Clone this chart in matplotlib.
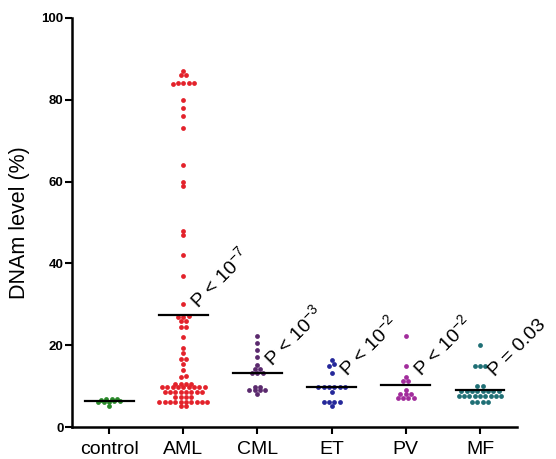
import numpy as np
import matplotlib
matplotlib.use("Agg")
import matplotlib.pyplot as plt

plt.rcParams["font.family"] = ["Liberation Sans", "DejaVu Sans"]
plt.rcParams["mathtext.fontset"] = "custom"
plt.rcParams["mathtext.rm"] = "Liberation Sans"
plt.rcParams["mathtext.it"] = "Liberation Sans:italic"
plt.rcParams["mathtext.bf"] = "Liberation Sans:bold"

# groups and DNAm values (%)
groups = ["control", "AML", "CML", "ET", "PV", "MF"]

control = [6.8, 6.8, 6.8, 6.6, 6.4, 6.4, 6.2, 6.2, 6.0, 5.2]
aml = [86.9, 86.1, 86.1, 84.2, 84.0, 83.8, 84.0, 84.2,
       80, 78, 76, 73, 64, 60, 59, 48, 47, 42, 37, 30,
       27.2, 27.0, 27.0, 26.0, 26.0, 24.4, 24.4,
       22, 19.2, 18.2, 16.6, 16.6, 15.4, 14, 12.4, 12.2,
       10.5, 10.5, 10.5, 10.5,
       9.8, 9.8, 9.8, 9.8, 9.8, 9.8, 9.8, 9.8, 9.8,
       8.5, 8.5, 8.5, 8.5, 8.5, 8.5, 8.5, 8.5,
       7.3, 7.3, 7.3, 7.3,
       6.1, 6.1, 6.1, 6.1, 6.1, 6.1, 6.1, 6.1, 6.1, 6.1,
       5.2, 5.2]
cml = [22.3, 20.6, 18.9, 17.0, 15.1, 14.1, 14.1, 13.2, 13.2, 13.2,
       9.9, 9.9, 9.1, 9.1, 9.1, 9.1, 8.0]
et = [16.3, 15.5, 15.0, 13.2, 9.8, 9.8, 9.8, 9.8, 9.8, 9.8, 8.5,
      6.2, 6.2, 6.2, 6.2, 5.2]
pv = [22.2, 14.8, 12.2, 11.2, 11.2, 9.0, 8.0, 8.0, 8.0, 7.0, 7.0, 7.0, 7.0]
mf = [20.0, 15.0, 15.0, 15.0, 10.0, 10.0,
      8.7, 8.7, 8.7, 8.7, 8.7, 8.7, 8.7, 8.7,
      7.5, 7.5, 7.5, 7.5, 7.5, 7.5, 7.5, 7.5, 7.5,
      6.0, 6.0, 6.0, 6.0]
series = [control, aml, cml, et, pv, mf]

p_labels = ["", r"P < 10$^{-7}$", r"P < 10$^{-3}$", r"P < 10$^{-2}$",
            r"P < 10$^{-2}$", "P = 0.03"]

colors = ["#2a8a2a", "#e3222b", "#5b2a6e", "#25289a", "#a22c9c", "#1f6f75"]
label_y = [0, 28.8, 14.6, 12.2, 12.2, 12.2]  # anchor heights of the rotated P labels


def swarm(vals, bin_w=0.5, dx=0.072):
    v = np.sort(np.asarray(vals, dtype=float))
    offs = np.zeros(len(v))
    start = 0
    for i in range(1, len(v) + 1):
        if i == len(v) or v[i] - v[start] > bin_w:
            n = i - start
            offs[start:i] = (np.arange(n) - (n - 1) / 2) * dx
            start = i
    return v, offs


fig = plt.figure(figsize=(5.56, 4.59), dpi=100)
ax = fig.add_axes([0.1295, 0.0697, 0.8005, 0.8913])

for i, (vals, col) in enumerate(zip(series, colors)):
    v, offs = swarm(vals)
    ax.scatter(i + offs, v, s=12, color=col, linewidths=0, zorder=3)
    m = np.mean(vals)
    ax.plot([i - 0.33, i + 0.33], [m, m], color="black", lw=1.6, zorder=4)
    if p_labels[i]:
        ax.text(i + 0.2, label_y[i], p_labels[i], rotation=45,
                rotation_mode="anchor", ha="left", va="baseline",
                fontsize=14, clip_on=False)

ax.set_xlim(-0.5, 5.5)
ax.set_ylim(0, 100)
ax.set_xticks(range(len(groups)))
ax.set_xticklabels(groups, fontsize=14)
ax.set_yticks([0, 20, 40, 60, 80, 100])
ax.set_yticklabels(["0", "20", "40", "60", "80", "100"],
                   fontsize=9.5, fontweight="bold")
ax.set_ylabel("DNAm level (%)", fontsize=15.5, labelpad=8)

for side in ["top", "right"]:
    ax.spines[side].set_visible(False)
for side in ["left", "bottom"]:
    ax.spines[side].set_linewidth(1.8)
ax.tick_params(axis="both", direction="out", length=5, width=1.5)
ax.tick_params(axis="y", pad=1)
ax.tick_params(axis="x", pad=5)

fig.savefig("out.png", dpi=100)
